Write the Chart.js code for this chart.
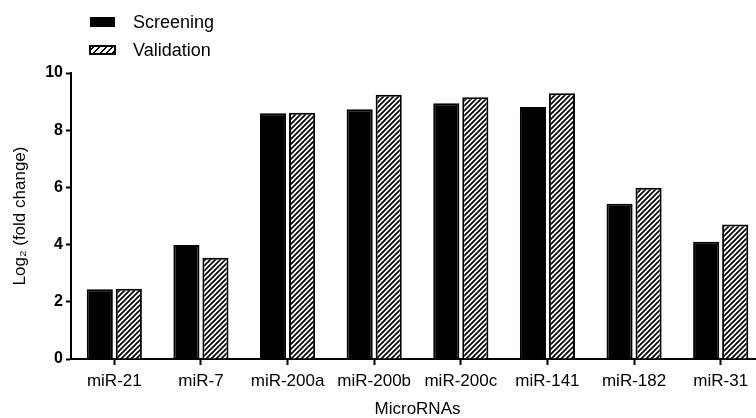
<!DOCTYPE html>
<html>
<head>
<meta charset="utf-8">
<script src="https://cdn.jsdelivr.net/npm/chart.js@4.4.1/dist/chart.umd.min.js"></script>
<style>
  html, body { margin: 0; padding: 0; background: #fff; overflow: hidden; }
  #wrap { position: relative; width: 756px; height: 418px; overflow: hidden; }
  #chart { position: absolute; left: 0; top: 0; }
  .lg-box { position: absolute; box-sizing: border-box; }
  .lg-text { position: absolute; left: 133px; font-family: Arial, "Liberation Sans", sans-serif;
             font-size: 18px; line-height: 20px; color: #000; white-space: nowrap; }
</style>
</head>
<body>
<div id="wrap">
  <canvas id="chart" width="770" height="418"></canvas>
  <!-- custom legend, stacked like the original -->
  <div class="lg-box" style="left:90px; top:17px; width:25px; height:10px; background:#000;"></div>
  <div class="lg-text" style="top:12px;">Screening</div>
  <div class="lg-box" style="left:89px; top:45px; width:27px; height:10px; border:2px solid #000;
       background: repeating-linear-gradient(-45deg, #000 0 1.5px, #fff 1.5px 4.5px);"></div>
  <div class="lg-text" style="top:40px;">Validation</div>
</div>
<script>
/*================== data =========================*/
const categories = ['miR-21', 'miR-7', 'miR-200a', 'miR-200b', 'miR-200c', 'miR-141', 'miR-182', 'miR-31'];
const screening  = [2.44, 3.99, 8.59, 8.73, 8.94, 8.81, 5.43, 4.10];
const validation = [2.46, 3.54, 8.61, 9.24, 9.15, 9.29, 5.99, 4.70];
const yTicks = [0, 2, 4, 6, 8, 10];

/*================== hatch fill for validation bars =========================*/
function makeHatch(size, lw) {
  const c = document.createElement('canvas');
  c.width = size; c.height = size;
  const g = c.getContext('2d');
  g.fillStyle = '#fff';
  g.fillRect(0, 0, size, size);
  g.strokeStyle = '#000';
  g.lineWidth = lw;
  g.beginPath();
  g.moveTo(0, size); g.lineTo(size, 0);
  g.moveTo(-1, 1); g.lineTo(1, -1);
  g.moveTo(size - 1, size + 1); g.lineTo(size + 1, size - 1);
  g.stroke();
  return g.createPattern(c, 'repeat');
}

Chart.defaults.font.family = 'Arial, "Liberation Sans", sans-serif';
Chart.defaults.color = '#000';

const ctx = document.getElementById('chart').getContext('2d');

const chart = new Chart(ctx, {
  type: 'bar',
  data: {
    labels: categories,
    datasets: [{
      label: 'Screening',
      data: screening,
      backgroundColor: '#000',
      borderColor: '#000',
      borderWidth: 2,
      categoryPercentage: 0.67,
      barPercentage: 0.9
    }, {
      label: 'Validation',
      data: validation,
      backgroundColor: makeHatch(5, 1.7),
      borderColor: '#000',
      borderWidth: 2,
      categoryPercentage: 0.67,
      barPercentage: 0.9
    }]
  },
  options: {
    responsive: false,
    animation: false,
    devicePixelRatio: 1,
    layout: { padding: { top: 73, right: 6, left: 10, bottom: 0 } },
    plugins: {
      legend: { display: false },   // legend is html above
      tooltip: { enabled: false }
    },
    scales: {
      x: {
        z: 1,
        grid: { drawOnChartArea: false, offset: false, tickLength: 6, tickWidth: 2, tickColor: '#000' },
        border: { color: '#000', width: 2 },
        ticks: { font: { size: 17 }, padding: 6, maxRotation: 0, autoSkip: false },
        title: { display: true, text: 'MicroRNAs', font: { size: 17 }, padding: { top: 0, bottom: -2 } },
        afterFit: s => { s.height = 59; }
      },
      y: {
        z: 1,
        min: 0,
        max: 10,
        afterBuildTicks: s => { s.ticks = yTicks.map(v => ({ value: v })); },
        grid: { drawOnChartArea: false, tickLength: 5, tickWidth: 2, tickColor: '#000' },
        border: { color: '#000', width: 2 },
        ticks: { font: { size: 16, weight: 'bold' }, padding: 3 },
        title: { display: true, text: 'Log₂ (fold change)', font: { size: 17 }, padding: 0 },
        afterFit: s => { s.width = 61; }
      }
    }
  }
});
</script>
</body>
</html>
